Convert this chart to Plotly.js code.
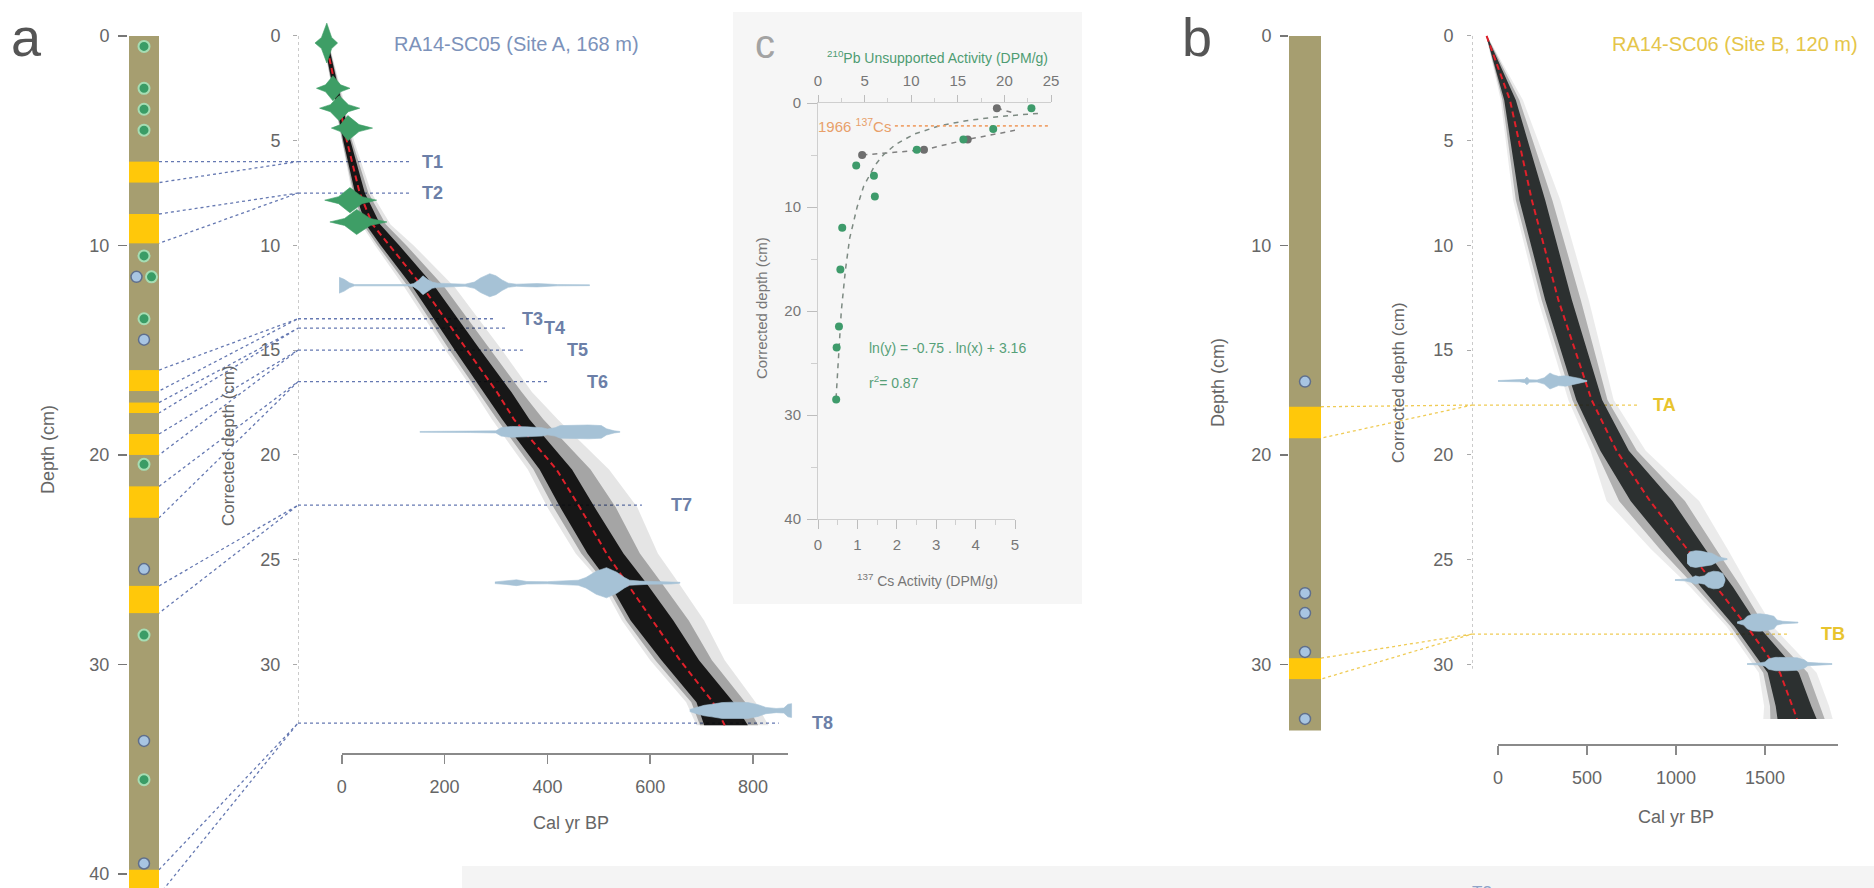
<!DOCTYPE html>
<html><head><meta charset="utf-8">
<script src="https://cdn.plot.ly/plotly-3.0.1.min.js"></script>
<style>html,body{margin:0;padding:0;background:#fff;}#chart{width:1874px;height:888px;}</style>
</head><body><div id="chart"></div>
<script>
// ---------------- DATA ----------------
// Panel a : core RA14-SC05 (raw depth, cm)
const coreA_length = 41;
const tephraA_names = ['T1','T2','T3','T4','T5','T6','T7','T8'];
const tephraA_top = [6.0, 8.5, 15.95, 17.5, 19.0, 21.5, 26.25, 39.8];
const tephraA_bot = [7.0, 9.9, 16.95, 18.0, 20.0, 23.0, 27.55, 41.0];
const tephraA_corrDepth = [6.0, 7.5, 13.5, 13.95, 15.0, 16.5, 22.4, 32.8];
const tephraA_lineEndAge = [132, 132, 298, 323, 356, 405, 584, 850];
const tephraA_labelAge = [177, 177, 372, 414, 459, 498, 661, 936];
const pbSamplesA_depth = [0.5, 2.5, 3.5, 4.5, 10.5, 11.5, 13.5, 20.45, 28.6, 35.5];
const c14SamplesA_depth = [11.5, 14.5, 25.45, 33.65, 39.5];

// Panel a : age-depth model (corrected depth, cal yr BP)
const ageA_depth   = [0.6, 5, 7.5, 9, 10, 12, 15, 17, 18.3, 20.7, 22.5, 24.7, 26.1, 27.9, 29.8, 31.8, 32.9];
const ageA_mean    = [-28, 10, 35, 60, 93, 158, 244, 302, 335, 418, 463, 515, 554, 605, 658, 722, 745];
const ageA_innerLo = [-32, 3, 26, 47, 76, 138, 220, 275, 312, 385, 425, 478, 520, 562, 622, 690, 705];
const ageA_innerHi = [-24, 17, 45, 75, 112, 182, 270, 330, 365, 448, 492, 548, 592, 645, 695, 762, 790];
const ageA_midLo   = [-33, 1, 23, 42, 70, 130, 210, 266, 302, 373, 412, 466, 512, 553, 610, 680, 697];
const ageA_midHi   = [-23, 20, 52, 86, 126, 200, 290, 350, 392, 484, 533, 580, 622, 675, 720, 785, 810];
const ageA_outerLo = [-34, 0, 20, 38, 65, 122, 202, 258, 292, 362, 400, 455, 505, 545, 600, 670, 690];
const ageA_outerHi = [-22, 24, 58, 95, 140, 220, 312, 370, 420, 520, 575, 615, 655, 705, 745, 805, 830];

// 210Pb age distributions (panel a)
const pbDatesA_depth = [0.34, 2.5, 3.45, 4.4, 7.84, 8.88];
const pbDatesA_min   = [-52, -49, -43, -20, -33, -23];
const pbDatesA_peak  = [-29, -17, -5, 12, 16, 29];
const pbDatesA_max   = [-8, 16, 35, 60, 68, 88];
const pbDatesA_halfH = [0.95, 0.6, 0.6, 0.6, 0.6, 0.6];

// 14C calibrated age distributions (panel a)
const c14A_depth = [11.9, 18.9, 26.1, 32.2];
const c14A_ages = [
  [-5, 5, 15, 25, 130, 140, 150, 158, 166, 176, 186, 200, 240, 258, 270, 288, 300, 312, 324, 340, 360, 380, 400, 420, 482],
  [152, 250, 300, 310, 330, 360, 390, 400, 415, 425, 450, 480, 505, 515, 530, 541],
  [298, 320, 340, 360, 400, 440, 460, 475, 495, 515, 535, 550, 560, 580, 600, 640, 658],
  [677, 690, 705, 720, 740, 760, 790, 810, 825, 845, 860, 868, 875]
];
const c14A_halfH = [
  [0.38, 0.28, 0.12, 0.03, 0.03, 0.08, 0.25, 0.45, 0.3, 0.15, 0.1, 0.08, 0.05, 0.15, 0.35, 0.55, 0.45, 0.25, 0.1, 0.05, 0.07, 0.08, 0.06, 0.03, 0.02],
  [0.02, 0.03, 0.05, 0.2, 0.26, 0.24, 0.2, 0.14, 0.2, 0.3, 0.33, 0.33, 0.3, 0.15, 0.05, 0.02],
  [0.04, 0.08, 0.14, 0.06, 0.05, 0.1, 0.12, 0.25, 0.55, 0.72, 0.5, 0.25, 0.12, 0.08, 0.07, 0.06, 0.02],
  [0.05, 0.15, 0.25, 0.3, 0.38, 0.4, 0.38, 0.28, 0.15, 0.1, 0.12, 0.3, 0.33]
];

// Panel b : core RA14-SC06
const coreB_length = 33.15;
const tephraB_names = ['TA','TB'];
const tephraB_top = [17.7, 29.7];
const tephraB_bot = [19.2, 30.7];
const tephraB_corrDepth = [17.62, 28.55];
const tephraB_lineEndAge = [781, 1624];
const tephraB_labelAge = [938, 1882];
const c14SamplesB_depth = [16.5, 26.6, 27.55, 29.4, 32.6];

const ageB_depth   = [0, 3.06, 7.83, 12.6, 17.38, 19.8, 22.2, 24.5, 26.3, 28.2, 30.4, 32.0, 32.6];
const ageB_mean    = [-64, 67, 190, 339, 526, 666, 854, 1062, 1230, 1399, 1584, 1657, 1680];
const ageB_innerLo = [-66, 35, 120, 265, 440, 575, 745, 965, 1140, 1330, 1515, 1560, 1570];
const ageB_innerHi = [-62, 100, 265, 415, 585, 735, 980, 1165, 1320, 1465, 1690, 1760, 1790];
const ageB_midLo   = [-66, 25, 100, 245, 418, 548, 680, 910, 1110, 1308, 1490, 1528, 1530];
const ageB_midHi   = [-61, 120, 305, 465, 615, 780, 1050, 1225, 1365, 1500, 1740, 1810, 1835];
const ageB_outerLo = [-67, 15, 85, 225, 395, 520, 610, 860, 1080, 1285, 1465, 1495, 1490];
const ageB_outerHi = [-60, 140, 350, 510, 650, 830, 1130, 1290, 1410, 1545, 1790, 1860, 1880];

const c14B_depth = [16.47, 24.97, 25.97, 28.0, 29.98];
const c14B_ages = [
  [0, 60, 120, 150, 163, 176, 220, 260, 280, 292, 310, 340, 380, 420, 460, 478, 500],
  [1062, 1080, 1110, 1140, 1170, 1200, 1240, 1287],
  [994, 1050, 1090, 1110, 1130, 1160, 1180, 1210, 1240, 1264, 1275],
  [1343, 1380, 1400, 1430, 1470, 1510, 1550, 1567, 1600, 1650, 1685],
  [1399, 1460, 1500, 1520, 1560, 1620, 1680, 1720, 1740, 1800, 1876]
];
const c14B_halfH = [
  [0.02, 0.03, 0.04, 0.08, 0.18, 0.06, 0.05, 0.15, 0.3, 0.38, 0.3, 0.22, 0.25, 0.2, 0.12, 0.06, 0.02],
  [0.2, 0.35, 0.4, 0.38, 0.32, 0.28, 0.1, 0.02],
  [0.02, 0.04, 0.12, 0.2, 0.15, 0.2, 0.35, 0.42, 0.4, 0.3, 0.05],
  [0.03, 0.12, 0.3, 0.4, 0.42, 0.38, 0.3, 0.12, 0.06, 0.04, 0.02],
  [0.02, 0.04, 0.1, 0.25, 0.32, 0.32, 0.3, 0.2, 0.08, 0.05, 0.02]
];

// Panel c : 210Pb / 137Cs profiles
const pb_depth    = [0.5, 2.5, 3.5, 4.5, 6.0, 7.0, 9.0, 12.0, 16.0, 21.5, 23.5, 28.5];
const pb_activity = [22.9, 18.8, 15.6, 10.6, 4.1, 6.0, 6.1, 2.6, 2.4, 2.25, 2.0, 1.95];
const cs_depth    = [0.5, 1.5, 2.5, 3.5, 4.5, 5.0];
const cs_activity = [4.54, 5.46, 5.18, 3.8, 2.69, 1.12];
const pbFit_depth    = [1.0, 1.3, 1.7, 2.2, 3, 4, 5, 6, 8, 10, 13, 16, 20, 24, 28.5];
const pbFit_activity = [23.6, 19.5, 15.9, 13.0, 10.3, 8.3, 7.0, 6.1, 4.9, 4.2, 3.4, 2.95, 2.5, 2.2, 1.93];
const cs1966_depth = 2.2;
const cs1966_pbSpan = [8.25, 24.8];

// ---------------- HELPERS ----------------
const W = 1874, H = 888;
const X = p => p / W, Y = p => 1 - p / H;
const FONT = '"Liberation Sans", Arial, Helvetica, sans-serif';
const depthRange = [40.67, -1.714];
const ageA_axisMin = -85, ageB_axisMin = -146;

const C_CORE = '#A69E70', C_TEPH = '#FFC80A', C_BLUE = '#A6C2D6', C_GREEN = '#3E9E66';
const C_LINKA = '#6679B2', C_LINKB = '#EFCB55';

const traces = [];
const skip = {hoverinfo: 'skip', showlegend: false};

function poly(xs, ys, ax, ay, color, extra) {
  traces.push(Object.assign({type: 'scatter', mode: 'lines', x: xs, y: ys, xaxis: ax, yaxis: ay,
    fill: 'toself', fillcolor: color, line: {width: 0.6, color: color}}, skip, extra || {}));
}
function band(depth, lo, hi, ax, ay, color) {
  poly(lo.concat(hi.slice().reverse()), depth.concat(depth.slice().reverse()), ax, ay, color, {line: {width: 0}});
}
function violin(d, ages, hh, ax, ay) {
  const xs = ages.concat(ages.slice().reverse());
  const ys = hh.map(h => d - h).concat(hh.slice().reverse().map(h => d + h));
  poly(xs, ys, ax, ay, C_BLUE);
}
function star(d, mn, pk, mx, hh, ax, ay) {
  const ls = pk - (pk - mn) * 0.45, rs = pk + (mx - pk) * 0.45, sh = hh * 0.28;
  poly([mn, ls, pk, rs, mx, rs, pk, ls, mn], [d, d - sh, d - hh, d - sh, d, d + sh, d + hh, d + sh, d], ax, ay, C_GREEN);
}
function core(len, tops, bots, ax, ay) {
  traces.push(Object.assign({type: 'bar', x: [0], y: [len], base: [0], width: [1], xaxis: ax, yaxis: ay,
    marker: {color: C_CORE, line: {width: 0}}}, skip));
  traces.push(Object.assign({type: 'bar', x: tops.map(() => 0), y: tops.map((t, i) => bots[i] - t), base: tops,
    width: tops.map(() => 1), xaxis: ax, yaxis: ay, marker: {color: C_TEPH, line: {width: 0}}}, skip));
}
function sideOffsets(own, other, sign) {
  return own.map(d => other.some(o => Math.abs(o - d) < 0.05) ? 0.25 * sign : 0);
}
function dots(depths, xs, ax, ay, fill, edge, ew) {
  traces.push(Object.assign({type: 'scatter', mode: 'markers', x: xs, y: depths, xaxis: ax, yaxis: ay,
    marker: {size: 11, color: fill, line: {color: edge, width: ew}}}, skip));
}
function line(xs, ys, ax, ay, color, width, dash) {
  traces.push(Object.assign({type: 'scatter', mode: 'lines', x: xs, y: ys, xaxis: ax, yaxis: ay,
    line: {color: color, width: width, dash: dash}}, skip));
}

// ---------------- PANEL A ----------------
core(coreA_length, tephraA_top, tephraA_bot, 'x', 'y');
tephraA_top.forEach((t, i) => line([0, 1, 0], [t, tephraA_corrDepth[i], tephraA_bot[i]], 'x9', 'y', C_LINKA, 1.3, 'dot'));
dots(pbSamplesA_depth, sideOffsets(pbSamplesA_depth, c14SamplesA_depth, 1), 'x', 'y', '#3A9C66', '#A6DDB3', 2);
dots(c14SamplesA_depth, sideOffsets(c14SamplesA_depth, pbSamplesA_depth, -1), 'x', 'y', '#A8C5E2', '#5F6F8C', 1.5);

line([ageA_axisMin, ageA_axisMin], [0, tephraA_corrDepth[tephraA_corrDepth.length - 1]], 'x2', 'y2', '#A8A8A8', 1.2, 'dot');
tephraA_corrDepth.forEach((d, i) => line([ageA_axisMin, tephraA_lineEndAge[i]], [d, d], 'x2', 'y2', C_LINKA, 1.3, 'dot'));
band(ageA_depth, ageA_outerLo, ageA_outerHi, 'x2', 'y2', 'rgba(0,0,0,0.1)');
band(ageA_depth, ageA_midLo, ageA_midHi, 'x2', 'y2', 'rgba(0,0,0,0.28)');
band(ageA_depth, ageA_innerLo, ageA_innerHi, 'x2', 'y2', 'rgba(8,8,8,0.9)');
line(ageA_mean, ageA_depth, 'x2', 'y2', '#E0202A', 2, '6px,4px');
pbDatesA_depth.forEach((d, i) => star(d, pbDatesA_min[i], pbDatesA_peak[i], pbDatesA_max[i], pbDatesA_halfH[i], 'x2', 'y2'));
c14A_depth.forEach((d, i) => violin(d, c14A_ages[i], c14A_halfH[i], 'x2', 'y2'));
traces.push(Object.assign({type: 'scatter', mode: 'markers', x: [0], y: [0], xaxis: 'x3', yaxis: 'y2', marker: {opacity: 0}}, skip));

// ---------------- PANEL B ----------------
core(coreB_length, tephraB_top, tephraB_bot, 'x4', 'y3');
tephraB_top.forEach((t, i) => line([0, 1, 0], [t, tephraB_corrDepth[i], tephraB_bot[i]], 'x10', 'y3', C_LINKB, 1.3, 'dot'));
dots(c14SamplesB_depth, c14SamplesB_depth.map(() => 0), 'x4', 'y3', '#A8C5E2', '#5F6F8C', 1.5);

line([ageB_axisMin, ageB_axisMin], [0, 30.2], 'x5', 'y4', '#A8A8A8', 1.2, 'dot');
tephraB_corrDepth.forEach((d, i) => line([ageB_axisMin, tephraB_lineEndAge[i]], [d, d], 'x5', 'y4', C_LINKB, 1.3, 'dot'));
band(ageB_depth, ageB_outerLo, ageB_outerHi, 'x5', 'y4', 'rgba(0,0,0,0.08)');
band(ageB_depth, ageB_midLo, ageB_midHi, 'x5', 'y4', 'rgba(0,0,0,0.25)');
band(ageB_depth, ageB_innerLo, ageB_innerHi, 'x5', 'y4', 'rgba(25,30,30,0.88)');
line(ageB_mean, ageB_depth, 'x5', 'y4', '#E0202A', 2, '6px,4px');
c14B_depth.forEach((d, i) => violin(d, c14B_ages[i], c14B_halfH[i], 'x5', 'y4'));
traces.push(Object.assign({type: 'scatter', mode: 'markers', x: [0], y: [0], xaxis: 'x6', yaxis: 'y4', marker: {opacity: 0}}, skip));

// ---------------- PANEL C ----------------
line(pbFit_activity, pbFit_depth, 'x8', 'y5', '#7D8A82', 1.5, '5px,5px');
line(cs_activity, cs_depth, 'x7', 'y5', '#808080', 1.5, '5px,5px');
line(cs1966_pbSpan, [cs1966_depth, cs1966_depth], 'x8', 'y5', '#F0A46E', 1.8, 'dot');
traces.push(Object.assign({type: 'scatter', mode: 'markers', x: pb_activity, y: pb_depth, xaxis: 'x8', yaxis: 'y5',
  marker: {size: 8, color: '#3E9B6B'}}, skip));
traces.push(Object.assign({type: 'scatter', mode: 'markers', x: cs_activity, y: cs_depth, xaxis: 'x7', yaxis: 'y5',
  marker: {size: 8, color: '#6E6E6E'}}, skip));

// ---------------- LAYOUT ----------------
const hid = {visible: false, showgrid: false, zeroline: false, fixedrange: true};
const tf = {size: 18, color: '#666', family: FONT};
const depthAx = {range: depthRange, domain: [0, 1], showgrid: false, zeroline: false, showline: false,
  ticks: 'outside', tickfont: tf, fixedrange: true};
const calAx = {showline: true, linecolor: '#8a8a8a', linewidth: 1.5, ticks: 'outside', ticklen: 9, tickwidth: 1.5,
  tickcolor: '#8a8a8a', showgrid: false, zeroline: false, tickfont: tf, ticklabelstandoff: 8, fixedrange: true, anchor: 'free'};
const cAx = {showline: true, linecolor: '#cfcfcf', linewidth: 1, ticks: 'outside', tickcolor: '#bdbdbd', tickwidth: 1,
  showgrid: false, zeroline: false, tickfont: {size: 15, color: '#777', family: FONT}, fixedrange: true};

function ann(text, px, py, size, color, extra) {
  return Object.assign({text: text, x: X(px), y: Y(py), xref: 'paper', yref: 'paper', showarrow: false,
    xanchor: 'center', yanchor: 'middle', font: {size: size, color: color, family: FONT}}, extra || {});
}
const annotations = [
  ann('a', 26, 37, 54, '#555'),
  ann('b', 1197, 37, 54, '#555'),
  ann('c', 765, 44, 40, '#a3a3a3'),
  ann('Depth (cm)', 48, 450, 18, '#666', {textangle: -90}),
  ann('Corrected depth (cm)', 228, 446, 17, '#666', {textangle: -90}),
  ann('RA14-SC05 (Site A, 168 m)', 516, 44, 20, '#7C92BA'),
  ann('Cal yr BP', 571, 823, 18, '#666'),
  ann('Depth (cm)', 1218, 383, 18, '#666', {textangle: -90}),
  ann('Corrected depth (cm)', 1398, 383, 17, '#666', {textangle: -90}),
  ann('RA14-SC06 (Site B, 120 m)', 1735, 44, 20, '#E5C54A'),
  ann('Cal yr BP', 1676, 817, 18, '#666'),
  ann('<sup>210</sup>Pb Unsupported Activity (DPM/g)', 937, 57, 14, '#4E9C72'),
  ann('<sup>137</sup> Cs Activity (DPM/g)', 927, 580, 14, '#777'),
  ann('Corrected depth (cm)', 761, 308, 15, '#777', {textangle: -90}),
  ann('T3', 1482, 892, 17, '#8FA3C8')
];
tephraA_names.forEach((n, i) => annotations.push({text: '<b>' + n + '</b>', x: tephraA_labelAge[i], y: tephraA_corrDepth[i],
  xref: 'x2', yref: 'y2', showarrow: false, font: {size: 18, color: '#6C7FA8', family: FONT}}));
tephraB_names.forEach((n, i) => annotations.push({text: '<b>' + n + '</b>', x: tephraB_labelAge[i], y: tephraB_corrDepth[i],
  xref: 'x5', yref: 'y4', showarrow: false, font: {size: 18, color: '#E8C42E', family: FONT}}));
annotations.push({text: '1966 <sup>137</sup>Cs', x: 8.0, y: cs1966_depth, xref: 'x8', yref: 'y5', xanchor: 'right',
  showarrow: false, font: {size: 15, color: '#E8A06A', family: FONT}});
annotations.push({text: 'ln(y) = -0.75 . ln(x) + 3.16', x: 1.24, y: 23.55, xref: 'x7', yref: 'y5', xanchor: 'left',
  showarrow: false, font: {size: 14, color: '#56A078', family: FONT}});
annotations.push({text: 'r<sup>2</sup>= 0.87', x: 1.24, y: 26.8, xref: 'x7', yref: 'y5', xanchor: 'left',
  showarrow: false, font: {size: 14, color: '#56A078', family: FONT}});

const layout = {
  width: W, height: H, margin: {l: 0, r: 0, t: 0, b: 0}, autosize: false,
  paper_bgcolor: '#ffffff', plot_bgcolor: 'rgba(0,0,0,0)', showlegend: false, barmode: 'overlay',
  hovermode: false, font: {family: FONT, color: '#666'},
  xaxis: Object.assign({}, hid, {domain: [X(129), X(159)], range: [-0.5, 0.5], anchor: 'y'}),
  yaxis: Object.assign({}, depthAx, {anchor: 'free', position: X(127), tickvals: [0, 10, 20, 30, 40],
    ticklen: 9, tickwidth: 1.5, tickcolor: '#777', ticklabelstandoff: 5}),
  xaxis9: Object.assign({}, hid, {domain: [X(159), X(298)], range: [0, 1], anchor: 'y'}),
  xaxis2: Object.assign({}, hid, {domain: [X(298), X(880)], range: [ageA_axisMin, 1047], anchor: 'y2'}),
  yaxis2: Object.assign({}, depthAx, {anchor: 'x2', tickvals: [0, 5, 10, 15, 20, 25, 30], ticklen: 4,
    tickcolor: '#aaa', ticklabelstandoff: 9}),
  xaxis3: Object.assign({}, calAx, {domain: [X(341.8), X(788)], range: [0, 868], position: Y(753),
    tickvals: [0, 200, 400, 600, 800]}),
  xaxis4: Object.assign({}, hid, {domain: [X(1289), X(1321)], range: [-0.5, 0.5], anchor: 'y3'}),
  yaxis3: Object.assign({}, depthAx, {anchor: 'free', position: X(1288), tickvals: [0, 10, 20, 30],
    ticklen: 8, tickwidth: 1.5, tickcolor: '#777', ticklabelstandoff: 5}),
  xaxis10: Object.assign({}, hid, {domain: [X(1321), X(1472)], range: [0, 1], anchor: 'y3'}),
  xaxis5: Object.assign({}, hid, {domain: [X(1472), X(1874)], range: [ageB_axisMin, 2112], anchor: 'y4'}),
  yaxis4: Object.assign({}, depthAx, {anchor: 'x5', tickvals: [0, 5, 10, 15, 20, 25, 30], ticklen: 4,
    tickcolor: '#aaa', ticklabelstandoff: 10}),
  xaxis6: Object.assign({}, calAx, {domain: [X(1498), X(1838)], range: [0, 1910], position: Y(744),
    tickvals: [0, 500, 1000, 1500]}),
  yaxis5: Object.assign({}, cAx, {domain: [Y(519), Y(103)], range: [40, 0], anchor: 'x7', tickmode: 'linear',
    tick0: 0, dtick: 10, ticklen: 10, ticklabelstandoff: 3,
    minor: {dtick: 5, ticks: 'outside', ticklen: 6, tickcolor: '#cfcfcf', showgrid: false}}),
  xaxis7: Object.assign({}, cAx, {domain: [X(818), X(1015)], range: [0, 5], anchor: 'y5', side: 'bottom',
    tickmode: 'linear', tick0: 0, dtick: 1, ticklen: 9, ticklabelstandoff: 3,
    minor: {dtick: 0.5, ticks: 'outside', ticklen: 5, tickcolor: '#cfcfcf', showgrid: false}}),
  xaxis8: Object.assign({}, cAx, {domain: [X(818), X(1051)], range: [0, 25], anchor: 'y5', side: 'top',
    tickmode: 'linear', tick0: 0, dtick: 5, ticklen: 7, ticklabelstandoff: 3,
    minor: {dtick: 2.5, ticks: 'outside', ticklen: 4, tickcolor: '#cfcfcf', showgrid: false}}),
  shapes: [
    {type: 'rect', xref: 'paper', yref: 'paper', x0: X(733), x1: X(1082), y0: Y(604), y1: Y(12),
      fillcolor: '#F6F6F6', line: {width: 0}, layer: 'below'},
    {type: 'rect', xref: 'paper', yref: 'paper', x0: X(462), x1: X(1874), y0: Y(888), y1: Y(866),
      fillcolor: '#F4F4F4', line: {width: 0}, layer: 'below'}
  ],
  annotations: annotations
};

Plotly.newPlot('chart', traces, layout, {staticPlot: true, displayModeBar: false});
</script></body></html>
